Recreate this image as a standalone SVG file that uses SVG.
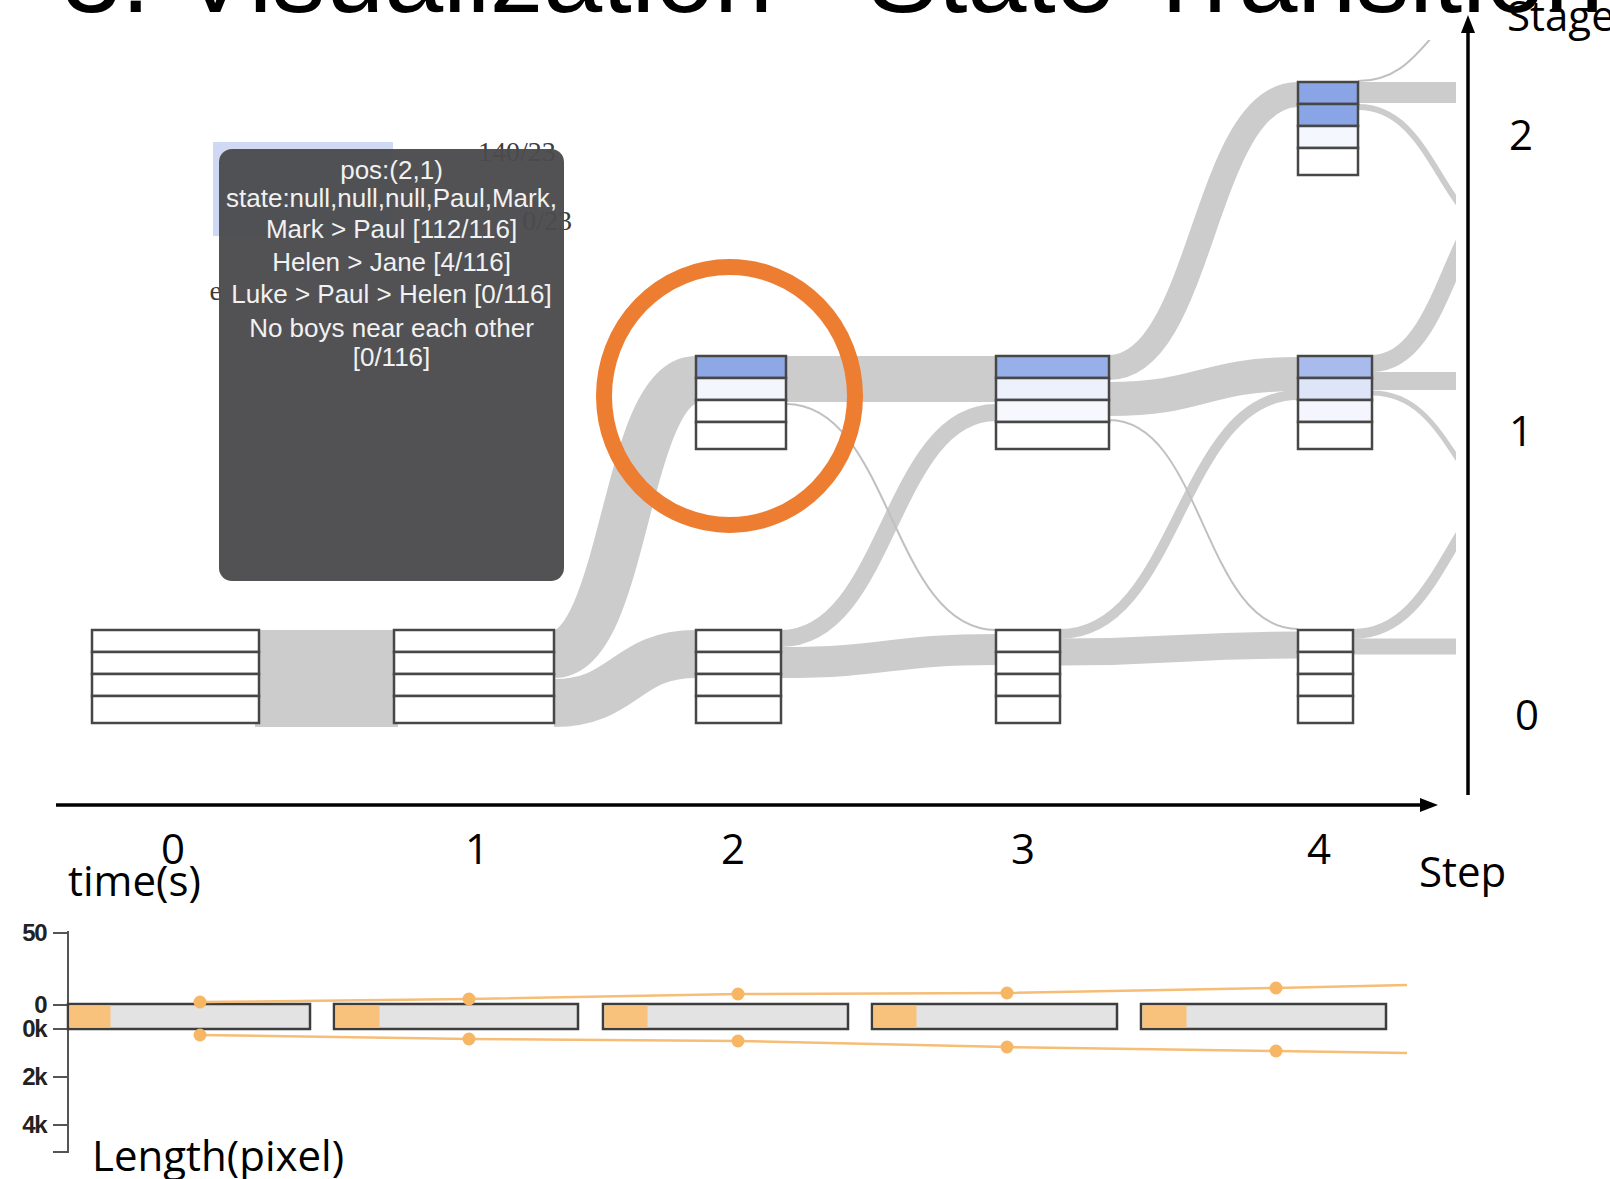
<svg xmlns="http://www.w3.org/2000/svg" width="1610" height="1179" viewBox="0 0 1610 1179">
  <defs>
    <style>
      .title{font-family:"Liberation Sans",Arial,sans-serif;font-size:106px;fill:#000}
      .lbl{font-family:"Open Sans","Noto Sans",sans-serif;font-size:42px;fill:#000}
      .num{font-family:"Open Sans","Noto Sans",sans-serif;font-size:42px;fill:#000;text-anchor:middle}
      .tip{font-family:"Liberation Sans",Arial,sans-serif;font-size:26px;fill:#f1f1f1;text-anchor:middle}
      .ghost{font-family:"Liberation Serif","Times New Roman",serif;font-size:28px;fill:#3c3c3c}
      .row{stroke:#474747;stroke-width:2.5}
      .band{fill:none;stroke:#cccccc}
      .thin{fill:none;stroke:#c0c0c0;stroke-width:2}
      .axis{fill:none;stroke:#000;stroke-width:3.5}
      .bar{fill:#e3e3e3;stroke:#3d3d3d;stroke-width:2.5}
      .done{fill:#f8c27d}
      .trend{fill:none;stroke:#f6bd77;stroke-width:2.5}
      .dot{fill:#f6b664}
      .tick{stroke:#555;stroke-width:2;fill:none}
      .tl{font-family:"Liberation Sans",Arial,sans-serif;font-size:24px;font-weight:bold;fill:#222;text-anchor:end;letter-spacing:-1.5px}
    </style>
    <marker id="arrow" markerUnits="userSpaceOnUse" markerWidth="18" markerHeight="14" refX="1" refY="7" orient="auto" viewBox="0 0 18 14">
      <path d="M0,0 L18,7 L0,14 z" fill="#000"/>
    </marker>
    <clipPath id="plot">
      <rect x="0" y="40" width="1456" height="760"/>
    </clipPath>
  </defs>

  <rect x="0" y="0" width="1610" height="1179" fill="#fff"/>

  <!-- title, mostly above the top edge -->
  <text class="title" x="62" y="12">3. Visualization - State Transition</text>

  <!-- flows between states -->
  <g id="connectors" clip-path="url(#plot)">
    <path class="band" stroke-width="97" d="M255,678.5 H398"/>
    <path class="band" stroke-width="48" d="M554,654 C625,654 625,380 696,380"/>
    <path class="band" stroke-width="48" d="M554,703 C625,703 625,654 696,654"/>

    <path class="band" stroke-width="46" d="M786,379 H996"/>
    <path class="band" stroke-width="17" d="M781,638.5 C889,638.5 889,412.5 996,412.5"/>
    <path class="band" stroke-width="31" d="M781,662.5 C889,662.5 889,649.5 996,649.5"/>

    <path class="band" stroke-width="25" d="M1109,367.5 C1203,367.5 1203,94.5 1298,94.5"/>
    <path class="band" stroke-width="34" d="M1109,399 C1203,399 1203,374 1298,374"/>
    <path class="band" stroke-width="10" d="M1060,634 C1179,634 1179,395 1298,395"/>
    <path class="band" stroke-width="27" d="M1060,652 C1179,652 1179,645 1298,645"/>

    <path class="band" stroke-width="21" d="M1358,92.5 H1460"/>
    <path class="band" stroke-width="6" d="M1358,107 C1439,107 1439,240 1520,240"/>
    <path class="band" stroke-width="17" d="M1372,363.5 C1451,363.5 1451,180 1530,180"/>
    <path class="band" stroke-width="18" d="M1372,381 H1460"/>
    <path class="band" stroke-width="5" d="M1372,393 C1456,393 1456,520 1540,520"/>
    <path class="band" stroke-width="10" d="M1353,634 C1450,634 1450,470 1546,470"/>
    <path class="band" stroke-width="16" d="M1353,646.5 H1460"/>

    <path class="thin" d="M786,404 C891,404 891,630 996,630"/>
    <path class="thin" d="M1109,420 C1203,420 1203,629 1298,629"/>
    <path class="thin" d="M1358,81 C1429,81 1429,0 1500,0"/>
  </g>

  <!-- state nodes: step t, stage s -->
  <g id="node-t0-s0">
    <rect class="row" x="92" y="630" width="167" height="22" fill="#fff"/>
    <rect class="row" x="92" y="652" width="167" height="22" fill="#fff"/>
    <rect class="row" x="92" y="674" width="167" height="22" fill="#fff"/>
    <rect class="row" x="92" y="696" width="167" height="27" fill="#fff"/>
  </g>
  <g id="node-t1-s0">
    <rect class="row" x="394" y="630" width="160" height="22" fill="#fff"/>
    <rect class="row" x="394" y="652" width="160" height="22" fill="#fff"/>
    <rect class="row" x="394" y="674" width="160" height="22" fill="#fff"/>
    <rect class="row" x="394" y="696" width="160" height="27" fill="#fff"/>
  </g>
  <g id="node-t2-s0">
    <rect class="row" x="696" y="630" width="85" height="22" fill="#fff"/>
    <rect class="row" x="696" y="652" width="85" height="22" fill="#fff"/>
    <rect class="row" x="696" y="674" width="85" height="22" fill="#fff"/>
    <rect class="row" x="696" y="696" width="85" height="27" fill="#fff"/>
  </g>
  <g id="node-t2-s1">
    <rect class="row" x="696" y="356" width="90" height="22" fill="#8ea7e5"/>
    <rect class="row" x="696" y="378" width="90" height="22" fill="#f3f6fd"/>
    <rect class="row" x="696" y="400" width="90" height="22" fill="#fff"/>
    <rect class="row" x="696" y="422" width="90" height="27" fill="#fff"/>
  </g>
  <g id="node-t3-s0">
    <rect class="row" x="996" y="630" width="64" height="22" fill="#fff"/>
    <rect class="row" x="996" y="652" width="64" height="22" fill="#fff"/>
    <rect class="row" x="996" y="674" width="64" height="22" fill="#fff"/>
    <rect class="row" x="996" y="696" width="64" height="27" fill="#fff"/>
  </g>
  <g id="node-t3-s1">
    <rect class="row" x="996" y="356" width="113" height="22" fill="#98b0e9"/>
    <rect class="row" x="996" y="378" width="113" height="22" fill="#edf1fc"/>
    <rect class="row" x="996" y="400" width="113" height="22" fill="#f6f8fe"/>
    <rect class="row" x="996" y="422" width="113" height="27" fill="#fff"/>
  </g>
  <g id="node-t4-s0">
    <rect class="row" x="1298" y="630" width="55" height="22" fill="#fff"/>
    <rect class="row" x="1298" y="652" width="55" height="22" fill="#fff"/>
    <rect class="row" x="1298" y="674" width="55" height="22" fill="#fff"/>
    <rect class="row" x="1298" y="696" width="55" height="27" fill="#fff"/>
  </g>
  <g id="node-t4-s1">
    <rect class="row" x="1298" y="356" width="74" height="22" fill="#a8bbec"/>
    <rect class="row" x="1298" y="378" width="74" height="22" fill="#dee5f8"/>
    <rect class="row" x="1298" y="400" width="74" height="22" fill="#f5f6fd"/>
    <rect class="row" x="1298" y="422" width="74" height="27" fill="#fff"/>
  </g>
  <g id="node-t4-s2">
    <rect class="row" x="1298" y="82" width="60" height="22" fill="#8aa5e5"/>
    <rect class="row" x="1298" y="104" width="60" height="22" fill="#8aa5e5"/>
    <rect class="row" x="1298" y="126" width="60" height="22" fill="#f5f7fe"/>
    <rect class="row" x="1298" y="148" width="60" height="27" fill="#fff"/>
  </g>

  <!-- hover tooltip with the content underneath it -->
  <g id="tooltip">
    <rect x="213" y="142" width="180" height="94" fill="#d0d9f4"/>
    <text class="ghost" x="478" y="161">140/23</text>
    <text class="ghost" x="572" y="230" text-anchor="end">0/23</text>
    <text class="ghost" x="222" y="300" text-anchor="end">e</text>
    <rect x="219" y="149" width="345" height="432" rx="13" fill="#4b4b4d" fill-opacity="0.96"/>
    <text class="tip" x="391.5" y="179">pos:(2,1)</text>
    <text class="tip" x="391.5" y="207">state:null,null,null,Paul,Mark,</text>
    <text class="tip" x="391.5" y="238">Mark &gt; Paul [112/116]</text>
    <text class="tip" x="391.5" y="271">Helen &gt; Jane [4/116]</text>
    <text class="tip" x="391.5" y="303">Luke &gt; Paul &gt; Helen [0/116]</text>
    <text class="tip" x="391.5" y="337">No boys near each other</text>
    <text class="tip" x="391.5" y="366">[0/116]</text>
  </g>

  <!-- highlight ring on the selected state -->
  <ellipse id="highlight" cx="729.5" cy="396" rx="125.5" ry="129" fill="none" stroke="#ed7d31" stroke-width="16"/>

  <!-- axes -->
  <g id="axes">
    <path class="axis" d="M56,805 H1421" marker-end="url(#arrow)"/>
    <path class="axis" d="M1468,795 V32" marker-end="url(#arrow)"/>
    <text class="lbl" x="1507" y="31">Stage</text>
    <text class="num" x="1521" y="150">2</text>
    <text class="num" x="1521" y="446">1</text>
    <text class="num" x="1527" y="730">0</text>
    <text class="num" x="173" y="864">0</text>
    <text class="num" x="477" y="864">1</text>
    <text class="num" x="733" y="864">2</text>
    <text class="num" x="1023" y="864">3</text>
    <text class="num" x="1319" y="864">4</text>
    <text class="lbl" x="1419" y="887">Step</text>
  </g>

  <!-- per-step time / length chart -->
  <g id="timing">
    <text class="lbl" x="68" y="896">time(s)</text>
    <path class="tick" d="M68,931 V1152 H53 M53,933 H68 M53,1005 H68 M53,1029 H68 M53,1077 H68 M53,1125 H68"/>
    <text class="tl" x="46" y="941">50</text>
    <text class="tl" x="46" y="1013">0</text>
    <text class="tl" x="46" y="1037">0k</text>
    <text class="tl" x="46" y="1085">2k</text>
    <text class="tl" x="46" y="1133">4k</text>

    <rect class="bar" x="68" y="1004" width="242" height="25"/>
    <rect class="done" x="69.5" y="1005.5" width="41" height="22"/>
    <rect class="bar" x="334" y="1004" width="244" height="25"/>
    <rect class="done" x="335.5" y="1005.5" width="44" height="22"/>
    <rect class="bar" x="603" y="1004" width="245" height="25"/>
    <rect class="done" x="604.5" y="1005.5" width="43" height="22"/>
    <rect class="bar" x="872" y="1004" width="245" height="25"/>
    <rect class="done" x="873.5" y="1005.5" width="43" height="22"/>
    <rect class="bar" x="1141" y="1004" width="245" height="25"/>
    <rect class="done" x="1142.5" y="1005.5" width="44" height="22"/>

    <path class="trend" d="M200,1002 L469,999 L738,994 L1007,993 L1276,988 L1407,985"/>
    <path class="trend" d="M200,1035 L469,1039 L738,1041 L1007,1047 L1276,1051 L1407,1053"/>
    <circle class="dot" cx="200" cy="1002" r="6.5"/>
    <circle class="dot" cx="469" cy="999" r="6.5"/>
    <circle class="dot" cx="738" cy="994" r="6.5"/>
    <circle class="dot" cx="1007" cy="993" r="6.5"/>
    <circle class="dot" cx="1276" cy="988" r="6.5"/>
    <circle class="dot" cx="200" cy="1035" r="6.5"/>
    <circle class="dot" cx="469" cy="1039" r="6.5"/>
    <circle class="dot" cx="738" cy="1041" r="6.5"/>
    <circle class="dot" cx="1007" cy="1047" r="6.5"/>
    <circle class="dot" cx="1276" cy="1051" r="6.5"/>

    <text class="lbl" x="92" y="1171">Length(pixel)</text>
  </g>
</svg>
